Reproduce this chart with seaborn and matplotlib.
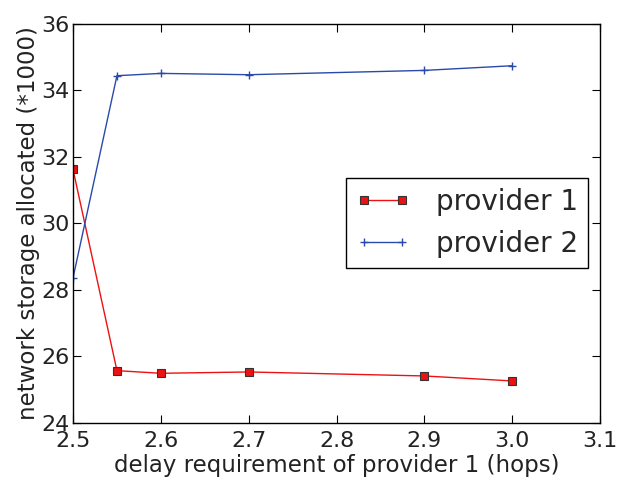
import matplotlib
matplotlib.use("Agg")
import matplotlib.pyplot as plt
import seaborn as sns
import pandas as pd

# delay requirement (hops) and allocated storage (*1000) for each provider
delay = [2.5, 2.55, 2.6, 2.7, 2.9, 3.0]
provider1 = [31.61, 25.56, 25.48, 25.52, 25.40, 25.25]
provider2 = [28.35, 34.43, 34.50, 34.46, 34.59, 34.73]
series_names = ["provider 1", "provider 2"]

df1 = pd.DataFrame({"delay": delay, "storage": provider1})
df2 = pd.DataFrame({"delay": delay, "storage": provider2})

sns.set_style("white")
plt.rcParams.update({
    "font.family": ["DejaVu Sans"],
    "xtick.direction": "in",
    "ytick.direction": "in",
    "xtick.top": True,
    "ytick.right": True,
    "xtick.bottom": True,
    "ytick.left": True,
    "xtick.major.size": 5.5,
    "ytick.major.size": 5.5,
    "xtick.major.width": 0.8,
    "ytick.major.width": 0.8,
    "axes.edgecolor": "black",
    "axes.linewidth": 1.0,
})

fig = plt.figure(figsize=(6.22, 4.78), dpi=100)
ax = fig.add_axes([0.1174, 0.1161, 0.8472, 0.8347])

red = "#ee1111"
blue = "#2a4aaa"

sns.lineplot(data=df1, x="delay", y="storage", ax=ax, color=red, linewidth=1.0,
             marker="s", markersize=5.5, markerfacecolor=red,
             markeredgecolor="#333333", markeredgewidth=0.8,
             label=series_names[0], sort=False)
sns.lineplot(data=df2, x="delay", y="storage", ax=ax, color=blue, linewidth=1.0,
             marker="+", markersize=5.5, markeredgecolor=blue, markeredgewidth=1.0,
             label=series_names[1], sort=False)

ax.set_xlim(2.5, 3.1)
ax.set_ylim(24, 36)
ax.set_xticks([2.5, 2.6, 2.7, 2.8, 2.9, 3.0, 3.1])
ax.set_yticks([24, 26, 28, 30, 32, 34, 36])
ax.tick_params(labelsize=16, colors="black", labelcolor="#222222")
ax.tick_params(axis="x", pad=6)
ax.tick_params(axis="y", pad=2.5)
for s in ax.spines.values():
    s.set_visible(True)
    s.set_color("black")

ax.set_xlabel("delay requirement of provider 1 (hops)", fontsize=16.5, color="#222222", labelpad=2)
ax.set_ylabel("network storage allocated (*1000)", fontsize=16.5, color="#222222", labelpad=1)

leg = ax.legend(loc="center right", bbox_to_anchor=(1.003, 0.5), fontsize=20,
                numpoints=2, fancybox=False, framealpha=1, edgecolor="black",
                handlelength=2.0, handletextpad=0.9, borderpad=0.35,
                labelspacing=0.5)
leg.get_frame().set_linewidth(1.0)

fig.savefig("out.png", dpi=100)
